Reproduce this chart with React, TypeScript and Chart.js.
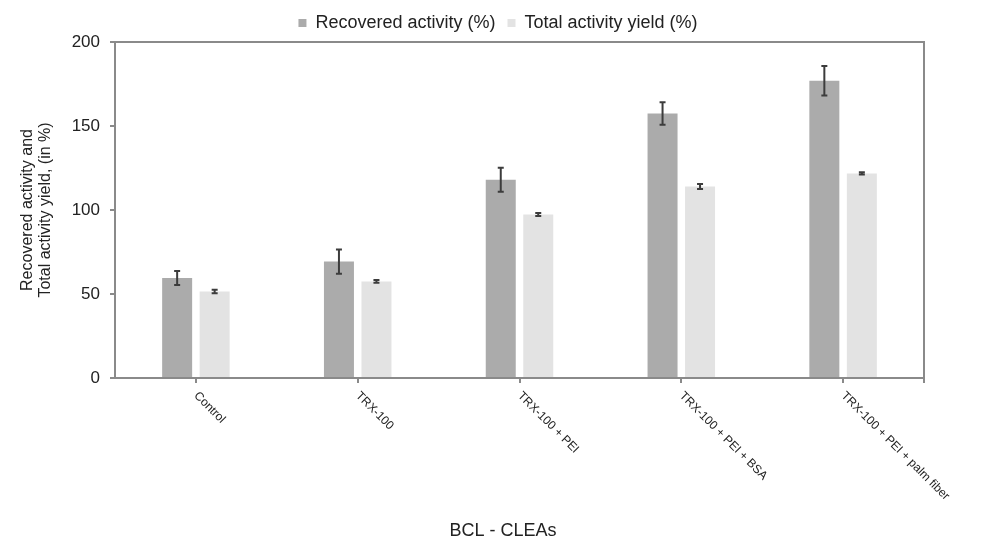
import React, { useEffect, useRef } from 'react';
import { Chart, registerables } from 'chart.js';

Chart.register(...registerables);

const categories = ['Control', 'TRX-100', 'TRX-100 + PEI', 'TRX-100 + PEI + BSA', 'TRX-100 + PEI + palm fiber'];
const recoveredActivity = [59.5, 69.3, 118, 157.4, 176.9];
const recoveredError = [4.2, 7.2, 7.2, 6.7, 8.8];
const totalYield = [51.5, 57.5, 97.3, 114, 121.8];
const totalYieldError = [1.0, 0.8, 0.9, 1.5, 0.6];
const seriesNames = ['Recovered activity (%)', 'Total activity yield (%)'];
const yTitle = ['Recovered activity and', 'Total activity yield, (in %)'];
const xTitle = 'BCL - CLEAs';
const yMin = 0;
const yMax = 200;
const yStep = 50;

const FONT = "'Liberation Sans', Arial, sans-serif";
const AXIS = '#8a8a8a';
const TEXT = '#222222';

const errorBarPlugin = {
  id: 'errorBars',
  afterDatasetsDraw(chart: any) {
    const ctx = chart.ctx;
    const yScale = chart.scales.y;
    const errs = [recoveredError, totalYieldError];
    const vals = [recoveredActivity, totalYield];
    ctx.save();
    ctx.strokeStyle = '#3c3c3c';
    ctx.lineWidth = 2;
    chart.data.datasets.forEach((_ds: any, di: number) => {
      const meta = chart.getDatasetMeta(di);
      meta.data.forEach((el: any, i: number) => {
        const x = el.x;
        const yTop = yScale.getPixelForValue(vals[di][i] + errs[di][i]);
        const yBot = yScale.getPixelForValue(vals[di][i] - errs[di][i]);
        ctx.beginPath();
        ctx.moveTo(x, yTop);
        ctx.lineTo(x, yBot);
        ctx.moveTo(x - 3, yTop);
        ctx.lineTo(x + 3, yTop);
        ctx.moveTo(x - 3, yBot);
        ctx.lineTo(x + 3, yBot);
        ctx.stroke();
      });
    });
    ctx.restore();
  },
};

const legendShiftPlugin = {
  id: 'legendShift',
  afterLayout(chart: any) {
    const lg = chart.legend;
    if (lg) {
      lg.left += 36;
      lg.right += 36;
    }
  },
};

const framePlugin = {
  id: 'frame',
  afterDraw(chart: any) {
    const { ctx, chartArea } = chart;
    const xScale = chart.scales.x;
    ctx.save();
    ctx.strokeStyle = AXIS;
    ctx.lineWidth = 2;
    ctx.beginPath();
    ctx.moveTo(chartArea.left - 2, chartArea.top);
    ctx.lineTo(chartArea.right, chartArea.top);
    ctx.lineTo(chartArea.right, chartArea.bottom + 5);
    ctx.stroke();

    // rotated category labels
    ctx.fillStyle = TEXT;
    ctx.font = `12px ${FONT}`;
    ctx.textAlign = 'left';
    ctx.textBaseline = 'middle';
    categories.forEach((label, i) => {
      const x = xScale.getPixelForValue(i);
      ctx.save();
      ctx.translate(x, chartArea.bottom + 16);
      ctx.rotate(Math.PI / 4);
      ctx.fillText(label, 0, 0);
      ctx.restore();
    });

    // x-axis title
    ctx.font = `18px ${FONT}`;
    ctx.textAlign = 'center';
    ctx.textBaseline = 'middle';
    ctx.fillText(xTitle, 503, 531);
    ctx.restore();
  },
};

function BarChart() {
  const ref = useRef<HTMLCanvasElement | null>(null);
  useEffect(() => {
    if (!ref.current) return;
    Chart.defaults.font.family = FONT;
    const chart = new Chart(ref.current, {
      type: 'bar',
      data: {
        labels: categories,
        datasets: [
          {
            label: seriesNames[0],
            data: recoveredActivity,
            backgroundColor: '#ababab',
            borderWidth: 0,
            barPercentage: 0.8,
            categoryPercentage: 0.4635,
          },
          {
            label: seriesNames[1],
            data: totalYield,
            backgroundColor: '#e3e3e3',
            borderWidth: 0,
            barPercentage: 0.8,
            categoryPercentage: 0.4635,
          },
        ],
      },
      options: {
        animation: false,
        responsive: false,
        layout: { padding: { top: 2, right: 57, bottom: 0, left: 0 } },
        plugins: {
          tooltip: { enabled: false },
          legend: {
            position: 'top',
            labels: {
              boxWidth: 8,
              boxHeight: 8,
              padding: 12,
              color: TEXT,
              font: { size: 18, family: FONT },
            },
          },
        },
        scales: {
          x: {
            ticks: { display: false },
            grid: {
              drawOnChartArea: false,
              offset: false,
              drawTicks: true,
              tickLength: 5,
              color: AXIS,
              lineWidth: 2,
            },
            border: { display: true, color: AXIS, width: 2 },
            afterFit(scale: any) {
              scale.height = 163;
            },
          },
          y: {
            min: yMin,
            max: yMax,
            ticks: {
              stepSize: yStep,
              color: TEXT,
              padding: 10,
              font: { size: 17, family: FONT },
            },
            grid: {
              drawOnChartArea: false,
              drawTicks: true,
              tickLength: 5,
              color: AXIS,
              lineWidth: 2,
            },
            border: { display: true, color: AXIS, width: 2 },
            title: {
              display: true,
              text: yTitle,
              color: TEXT,
              font: { size: 16, family: FONT, lineHeight: 1.15 },
              padding: { top: 18, bottom: 0 },
            },
            afterFit(scale: any) {
              scale.width = 115;
            },
          },
        },
      } as any,
      plugins: [legendShiftPlugin, errorBarPlugin, framePlugin],
    });
    return () => chart.destroy();
  }, []);
  return <canvas ref={ref} width={981} height={541} style={{ display: 'block' }} />;
}

export default function App() {
  return (
    <div style={{ position: 'absolute', left: 0, top: 0, width: 981, height: 541, background: '#fff' }}>
      <BarChart />
    </div>
  );
}
